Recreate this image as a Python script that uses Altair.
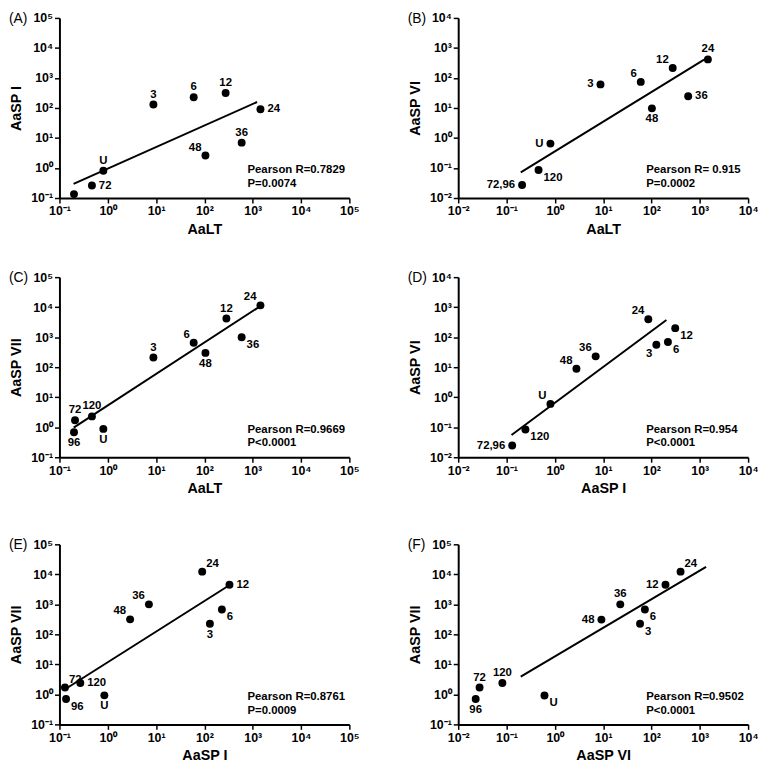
import altair as alt
import pandas as pd

FONT = "Liberation Sans"

# ---------------- data ----------------
# Panel A: AaLT vs AaSP I
A_label = ["", "72", "U", "3", "6", "12", "24", "36", "48"]
A_x = [0.20, 0.47, 0.81, 8.8, 60, 275, 1445, 590, 105]
A_y = [0.135, 0.26, 0.81, 130, 227, 316, 91, 7.0, 2.6]
A_pos = ["none", "right", "above", "above", "above", "above", "right", "above", "above-left"]
A_fit_x = [0.196, 1230]
A_fit_y = [0.295, 158]
A_stats = ["Pearson R=0.7829", "P=0.0074"]

# Panel B: AaLT vs AaSP VI
B_label = ["72,96", "120", "U", "3", "6", "12", "24", "36", "48"]
B_x = [0.21, 0.46, 0.81, 8.8, 60, 275, 1470, 575, 102]
B_y = [0.027, 0.086, 0.65, 61, 74, 215, 415, 24.6, 9.7]
B_pos = ["left", "below-right", "left", "left", "above-left", "above-left", "above", "right", "below"]
B_fit_x = [0.197, 1230]
B_fit_y = [0.071, 410]
B_stats = ["Pearson R= 0.915", "P=0.0002"]

# Panel C: AaLT vs AaSP VII
C_label = ["72", "96", "120", "U", "3", "6", "48", "12", "24", "36"]
C_x = [0.21, 0.20, 0.47, 0.81, 8.8, 60, 105, 285, 1445, 590]
C_y = [1.70, 0.68, 2.3, 0.88, 210, 650, 300, 4200, 11500, 1000]
C_pos = ["above", "below", "above", "below", "above", "above-left", "below", "above", "above-left", "below-right"]
C_fit_x = [0.197, 1290]
C_fit_y = [0.97, 9700]
C_stats = ["Pearson R=0.9669", "P<0.0001"]

# Panel D: AaSP I vs AaSP VI
D_label = ["72,96", "120", "U", "48", "36", "24", "3", "6", "12"]
D_x = [0.131, 0.246, 0.81, 2.8, 7.0, 86, 126, 219, 310]
D_y = [0.0245, 0.084, 0.6, 8.9, 23, 395, 56, 69, 200]
D_pos = ["left", "below-right", "above-left", "above-left", "above-left", "above-left", "below-left", "below-right", "below-right"]
D_fit_x = [0.127, 204]
D_fit_y = [0.055, 375]
D_stats = ["Pearson R=0.954", "P<0.0001"]

# Panel E: AaSP I vs AaSP VII
E_label = ["72", "96", "120", "U", "48", "36", "24", "12", "6", "3"]
E_x = [0.13, 0.137, 0.27, 0.85, 2.9, 7.1, 90, 330, 230, 130]
E_y = [1.7, 0.70, 2.4, 0.93, 316, 1000, 12300, 4500, 670, 225]
E_pos = ["above-right", "below-right", "right", "below", "above-left", "above-left", "above-right", "right", "below-right", "below"]
E_fit_x = [0.126, 340]
E_fit_y = [1.43, 4500]
E_stats = ["Pearson R=0.8761", "P=0.0009"]

# Panel F: AaSP VI vs AaSP VII
F_label = ["72", "96", "120", "U", "48", "36", "3", "6", "12", "24"]
F_x = [0.0277, 0.023, 0.082, 0.61, 9.2, 22.6, 58, 73, 195, 400]
F_y = [1.7, 0.70, 2.4, 0.92, 310, 1000, 225, 670, 4500, 12300]
F_pos = ["above", "below", "above", "below-right", "left", "above", "below-right", "below-right", "left", "above-right"]
F_fit_x = [0.197, 1350]
F_fit_y = [3.9, 17800]
F_stats = ["Pearson R=0.9502", "P<0.0001"]

TICKS_A = [0.1, 1, 10, 100, 1000, 10000, 100000]
TICKS_B = [0.01, 0.1, 1, 10, 100, 1000, 10000]

# ---------------- styling ----------------
W, H = 293, 182
LABEL_EXPR = ("datum.value < 0.05 ? '10⁻²' : datum.value < 0.5 ? '10⁻¹' : "
              "datum.value < 5 ? '10⁰' : datum.value < 50 ? '10¹' : "
              "datum.value < 500 ? '10²' : datum.value < 5000 ? '10³' : "
              "datum.value < 50000 ? '10⁴' : '10⁵'")

POS_STYLE = {
    "above": ("center", 0, -10),
    "below": ("center", 0, 11),
    "left": ("right", -7, 0),
    "right": ("left", 7, 0),
    "above-left": ("right", -4, -8),
    "above-right": ("left", 4, -8),
    "below-left": ("right", -4, 9),
    "below-right": ("left", 5, 8),
}


def panel(letter, xs, ys, labels, pos, fit_x, fit_y, stats, xtitle, ytitle, xticks, yticks):
    pts = pd.DataFrame({"x": xs, "y": ys, "label": labels, "pos": pos})
    fit = pd.DataFrame({"x": fit_x, "y": fit_y})
    xdom = [xticks[0], xticks[-1]]
    ydom = [yticks[0], yticks[-1]]
    xenc = alt.X("x:Q", scale=alt.Scale(type="log", domain=xdom, nice=False),
                 axis=alt.Axis(values=xticks, labelExpr=LABEL_EXPR, title=xtitle))
    yenc = alt.Y("y:Q", scale=alt.Scale(type="log", domain=ydom, nice=False),
                 axis=alt.Axis(values=yticks, labelExpr=LABEL_EXPR, title=ytitle))

    line = alt.Chart(fit).mark_line(color="black", strokeWidth=2).encode(x=xenc, y=yenc)
    dots = alt.Chart(pts).mark_circle(color="black", size=64, opacity=1).encode(x=xenc, y=yenc)
    layers = [line, dots]
    for p, (al, dx, dy) in POS_STYLE.items():
        if p not in pos:
            continue
        layers.append(
            alt.Chart(pts).transform_filter(alt.datum.pos == p).mark_text(
                align=al, baseline="middle", dx=dx, dy=dy, font=FONT,
                fontSize=11.5, fontWeight="bold", color="black"
            ).encode(x=xenc, y=yenc, text="label:N")
        )
    st = pd.DataFrame({"t": stats, "row": [0, 1]})
    layers.append(
        alt.Chart(st).transform_filter(alt.datum.row == 0).mark_text(
            align="left", baseline="alphabetic", font=FONT, fontSize=11.5,
            fontWeight="bold", color="black"
        ).encode(x=alt.value(190), y=alt.value(157), text="t:N")
    )
    layers.append(
        alt.Chart(st).transform_filter(alt.datum.row == 1).mark_text(
            align="left", baseline="alphabetic", font=FONT, fontSize=11.5,
            fontWeight="bold", color="black"
        ).encode(x=alt.value(190), y=alt.value(171), text="t:N")
    )
    lab = pd.DataFrame({"t": [letter]})
    layers.append(
        alt.Chart(lab).mark_text(
            align="left", baseline="middle", font=FONT, fontSize=14,
            fontWeight="normal", color="black"
        ).encode(x=alt.value(-51), y=alt.value(1), text="t:N")
    )
    return alt.layer(*layers).properties(width=W, height=H)


pA = panel("(A)", A_x, A_y, A_label, A_pos, A_fit_x, A_fit_y, A_stats, "AaLT", "AaSP I", TICKS_A, TICKS_A)
pB = panel("(B)", B_x, B_y, B_label, B_pos, B_fit_x, B_fit_y, B_stats, "AaLT", "AaSP VI", TICKS_B, TICKS_B)
pC = panel("(C)", C_x, C_y, C_label, C_pos, C_fit_x, C_fit_y, C_stats, "AaLT", "AaSP VII", TICKS_A, TICKS_A)
pD = panel("(D)", D_x, D_y, D_label, D_pos, D_fit_x, D_fit_y, D_stats, "AaSP I", "AaSP VI", TICKS_B, TICKS_B)
pE = panel("(E)", E_x, E_y, E_label, E_pos, E_fit_x, E_fit_y, E_stats, "AaSP I", "AaSP VII", TICKS_A, TICKS_A)
pF = panel("(F)", F_x, F_y, F_label, F_pos, F_fit_x, F_fit_y, F_stats, "AaSP VI", "AaSP VII", TICKS_B, TICKS_A)

row1 = alt.hconcat(pA, pB, spacing=48)
row2 = alt.hconcat(pC, pD, spacing=48)
row3 = alt.hconcat(pE, pF, spacing=48)

chart = alt.vconcat(row1, alt.vconcat(row2, row3, spacing=44), spacing=36).properties(
    padding=0, background="white"
).configure_view(stroke=None).configure_axis(
    grid=False,
    domainColor="black", domainWidth=2,
    tickColor="black", tickWidth=1.5, tickSize=5,
    labelFont=FONT, labelFontSize=12.5, labelFontWeight="bold", labelColor="black",
    labelFlush=False, labelOverlap=False, labelPadding=2,
    titleFont=FONT, titleFontSize=14.5, titleFontWeight="bold", titleColor="black",
).configure_axisX(titlePadding=5).configure_axisY(titlePadding=7)

chart.save("out.html", embed_options={"renderer": "svg", "actions": False})
